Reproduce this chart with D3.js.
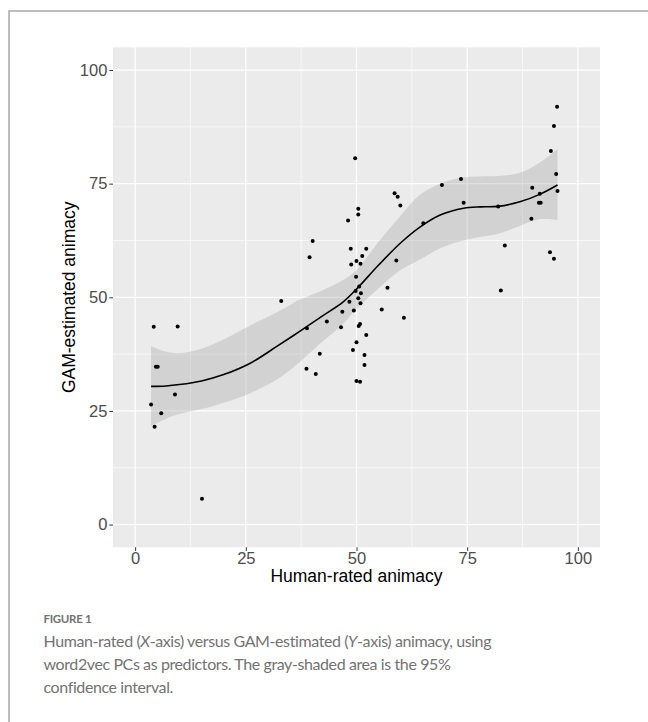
<!doctype html>
<html lang="en">
<head>
  <meta charset="utf-8">
  <title>Figure 1</title>
  <style>
    body { margin: 0; background: #fff; }
    svg { display: block; }
    .tick-label { font-family: "Liberation Sans", Arial, sans-serif; font-size: 16.5px; fill: #4d4d4d; }
    .axis-title { font-family: "Liberation Sans", Arial, sans-serif; font-size: 17.5px; fill: #000; }
    .caption { font-family: Lato, "Open Sans", sans-serif; fill: #737373; }
  </style>
</head>
<body>
  <div id="chart"></div>
  <script src="https://cdn.jsdelivr.net/npm/d3@7"></script>
  <script>
// scatter: human-rated vs GAM-estimated animacy
var humanRated = [4.2, 9.6, 4.7, 5.1, 9.0, 3.6, 5.9, 4.4, 15.1, 33.0,
  49.7, 58.6, 59.3, 59.9, 50.4, 50.4, 48.1, 40.1, 39.4, 48.7,
  52.2, 51.3, 50.0, 50.9, 48.8, 59.0, 49.9, 50.6, 57.0, 49.8,
  51.0, 50.4, 48.4, 50.9, 55.7, 60.7, 46.8, 49.4, 43.3, 38.8,
  46.5, 50.8, 50.5, 52.2, 50.0, 41.7, 49.2, 51.8, 51.8, 38.7,
  40.8, 50.0, 50.8, 95.3, 94.6, 93.9, 95.1, 95.4, 89.7, 91.4,
  91.2, 91.6, 89.5, 73.6, 69.3, 74.2, 82.0, 65.1, 83.5, 93.7,
  94.6, 82.6];
var gamEstimated = [43.5, 43.6, 34.7, 34.7, 28.6, 26.4, 24.5, 21.5, 5.7, 49.2,
  80.6, 72.9, 72.1, 70.2, 69.5, 68.2, 66.9, 62.4, 58.8, 60.7,
  60.7, 59.1, 58.0, 57.4, 57.2, 58.1, 54.5, 52.4, 52.1, 51.4,
  50.9, 49.8, 49.0, 48.7, 47.3, 45.5, 46.8, 47.1, 44.7, 43.2,
  43.4, 44.1, 43.7, 41.7, 40.1, 37.6, 38.4, 37.3, 35.1, 34.3,
  33.1, 31.6, 31.4, 91.9, 87.7, 82.2, 77.1, 73.4, 74.1, 72.8,
  70.8, 70.8, 67.3, 76.0, 74.7, 70.8, 70.0, 66.3, 61.4, 59.9,
  58.5, 51.5];

// smooth fit and 95% band
var smoothX = [3.6, 7, 10, 15, 20, 26, 32, 35, 37, 42, 47, 50, 55, 60, 64.4, 68.9, 74.2, 78, 82, 86.9, 91.5, 95.4];
var smoothFit = [30.4, 30.5, 30.8, 31.6, 33.0, 35.5, 39.2, 41.1, 42.4, 45.7, 49.0, 51.8, 57.1, 62.0, 65.5, 68.1, 69.6, 69.9, 70.0, 71.0, 72.7, 74.7];
var smoothUpper = [39.3, 38.0, 37.7, 38.7, 40.7, 43.8, 46.7, 48.3, 49.4, 51.4, 53.8, 56.0, 62.2, 68.0, 72.6, 75.0, 76.4, 76.6, 76.7, 77.4, 79.7, 82.6];
var smoothLower = [21.7, 23.3, 24.3, 25.4, 26.8, 28.9, 31.9, 34.0, 35.6, 40.0, 44.2, 47.4, 52.0, 56.0, 58.3, 60.8, 62.5, 63.3, 64.0, 65.7, 67.2, 67.0];

var majorTicks = [0, 25, 50, 75, 100];
var minorTicks = [12.5, 37.5, 62.5, 87.5];

var captionLines = [
  "Human-rated (X-axis) versus GAM-estimated (Y-axis) animacy, using",
  "word2vec PCs as predictors. The gray-shaded area is the 95%",
  "confidence interval."
];

(function(){
  var width = 648, height = 722;
  var panel = {left: 113, right: 600, top: 47.3, bottom: 547.3};

  var x = d3.scaleLinear().domain([-5, 105]).range([panel.left, panel.right]);
  var y = d3.scaleLinear().domain([-5, 105]).range([panel.bottom, panel.top]);

  var svg = d3.select("#chart").append("svg")
      .attr("width", width)
      .attr("height", height);

  svg.append("rect").attr("width", width).attr("height", height).attr("fill", "#fff");

  // frame round the figure (top and left only show)
  svg.append("path")
      .attr("d", "M9,722V11H648")
      .attr("fill", "none")
      .attr("stroke", "#a9a9a9")
      .attr("stroke-width", 1.5);

  // panel background
  svg.append("rect")
      .attr("x", panel.left).attr("y", panel.top)
      .attr("width", panel.right - panel.left)
      .attr("height", panel.bottom - panel.top)
      .attr("fill", "#ebebeb");

  var grid = svg.append("g");
  grid.selectAll(".vminor").data(minorTicks).enter().append("line")
      .attr("x1", d => x(d)).attr("x2", d => x(d))
      .attr("y1", panel.top).attr("y2", panel.bottom)
      .attr("stroke", "#fff").attr("stroke-width", 0.6);
  grid.selectAll(".hminor").data(minorTicks).enter().append("line")
      .attr("y1", d => y(d)).attr("y2", d => y(d))
      .attr("x1", panel.left).attr("x2", panel.right)
      .attr("stroke", "#fff").attr("stroke-width", 0.6);
  grid.selectAll(".vmajor").data(majorTicks).enter().append("line")
      .attr("x1", d => x(d)).attr("x2", d => x(d))
      .attr("y1", panel.top).attr("y2", panel.bottom)
      .attr("stroke", "#fff").attr("stroke-width", 1.2);
  grid.selectAll(".hmajor").data(majorTicks).enter().append("line")
      .attr("y1", d => y(d)).attr("y2", d => y(d))
      .attr("x1", panel.left).attr("x2", panel.right)
      .attr("stroke", "#fff").attr("stroke-width", 1.2);

  var band = smoothX.map((v, i) => ({x: v, fit: smoothFit[i], lo: smoothLower[i], hi: smoothUpper[i]}));

  // confidence band
  svg.append("path")
      .datum(band)
      .attr("d", d3.area()
        .x(d => x(d.x))
        .y0(d => y(d.lo))
        .y1(d => y(d.hi))
        .curve(d3.curveCatmullRom))
      .attr("fill", "#999")
      .attr("fill-opacity", 0.3);

  // points
  svg.append("g").selectAll("circle")
      .data(humanRated.map((v, i) => [v, gamEstimated[i]]))
      .enter().append("circle")
      .attr("cx", d => x(d[0]))
      .attr("cy", d => y(d[1]))
      .attr("r", 2)
      .attr("fill", "#000");

  // fit line
  svg.append("path")
      .datum(band)
      .attr("d", d3.line().x(d => x(d.x)).y(d => y(d.fit)).curve(d3.curveCatmullRom))
      .attr("fill", "none")
      .attr("stroke", "#000")
      .attr("stroke-width", 1.6);

  // axes, styled like ggplot
  var xAxis = svg.append("g")
      .attr("transform", "translate(0," + panel.bottom + ")")
      .call(d3.axisBottom(x).tickValues(majorTicks).tickSize(3.7).tickPadding(1.5));
  var yAxis = svg.append("g")
      .attr("transform", "translate(" + panel.left + ",0)")
      .call(d3.axisLeft(y).tickValues(majorTicks).tickSize(3.7).tickPadding(2));
  [xAxis, yAxis].forEach(function(a){
    a.select(".domain").remove();
    a.selectAll(".tick line").attr("stroke", "#333").attr("stroke-width", 1);
    a.selectAll(".tick text").attr("class", "tick-label").attr("fill", null);
    a.attr("font-family", null).attr("font-size", null);
  });

  svg.append("text")
      .attr("class", "axis-title")
      .attr("x", (panel.left + panel.right) / 2)
      .attr("y", 582)
      .attr("text-anchor", "middle")
      .text("Human-rated animacy");

  svg.append("text")
      .attr("class", "axis-title")
      .attr("transform", "translate(75," + (panel.top + panel.bottom) / 2 + ") rotate(-90)")
      .attr("text-anchor", "middle")
      .text("GAM-estimated animacy");

  // caption
  svg.append("text")
      .attr("class", "caption")
      .attr("x", 43.5)
      .attr("y", 622.7)
      .attr("font-size", 11.5)
      .attr("font-weight", "bold")
      .attr("letter-spacing", -0.3)
      .attr("fill", "#666")
      .text("FIGURE 1");

  var cap = svg.append("text")
      .attr("class", "caption")
      .attr("font-size", 16)
      .attr("letter-spacing", -0.4);
  cap.selectAll("tspan").data(captionLines).enter().append("tspan")
      .attr("x", 43.5)
      .attr("y", (d, i) => 646.7 + i * 23)
      .each(function(d){
        // italic X and Y in the axis names
        var el = d3.select(this);
        var parts = d.split(/(X|Y)(?=-axis)/);
        parts.forEach(function(p){
          var t = el.append("tspan").text(p);
          if (p === "X" || p === "Y") t.attr("font-style", "italic");
        });
      });
})();
  </script>
</body>
</html>
